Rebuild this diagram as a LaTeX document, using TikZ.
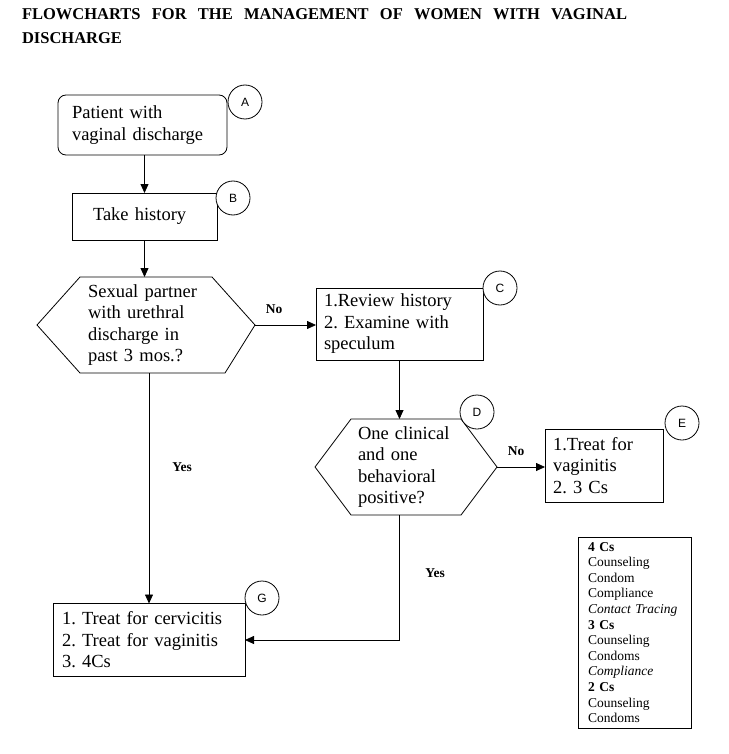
\documentclass[tikz,border=0pt]{standalone}
\usepackage{fontspec}
\setmainfont{Liberation Serif}
\newfontfamily\sansf{Liberation Sans}
\usetikzlibrary{arrows.meta,calc}
\frenchspacing
\begin{document}
\begin{tikzpicture}[x=1pt,y=-1pt,
  every node/.style={inner sep=0pt, outer sep=0pt},
  box/.style={draw, line width=0.8pt, fill=white, align=left, font=\fontsize{18.5}{21.5}\selectfont},
  hexnode/.style={align=left, font=\fontsize{18.5}{21.5}\selectfont},
  tag/.style={draw, circle, line width=0.8pt, fill=white, minimum size=34pt, font=\sansf\fontsize{12}{14}\selectfont},
  lbl/.style={font=\bfseries\fontsize{13.5}{16}\selectfont},
  arr/.style={line width=0.8pt, -{Triangle[length=9pt,width=8pt]}},
  hexline/.style={draw, line width=0.8pt, line join=miter}
]
\useasboundingbox (0,0) rectangle (728,754);

% title
\node[anchor=base west, font=\bfseries\fontsize{16.5}{20}\selectfont] (t1) at (22,20)
  {\makebox[605pt][s]{FLOWCHARTS FOR THE MANAGEMENT OF WOMEN WITH VAGINAL}};
\node[anchor=base west, font=\bfseries\fontsize{16.5}{20}\selectfont] (t2) at (22,44) {DISCHARGE};

% boxes
\node[box, rounded corners=8pt, minimum width=169pt, minimum height=60pt, text width=141pt, inner xsep=14pt] (A) at (142.5,125) {Patient with\\vaginal discharge};
\node[box, minimum width=145pt, minimum height=47pt, text width=103pt, inner xsep=21pt] (B) at (144.5,216.5) {Take history};
\node[box, minimum width=167pt, minimum height=72pt, text width=151pt, inner xsep=8pt] (C) at (399.5,324) {1.Review history\\2. Examine with\\speculum};
\node[box, minimum width=118pt, minimum height=73pt, text width=102pt, inner xsep=8pt] (E) at (604,465.5) {1.Treat for\\vaginitis\\2. 3 Cs};
\node[box, minimum width=192pt, minimum height=73pt, text width=174pt, inner xsep=9pt] (G) at (149,640) {1. Treat for cervicitis\\2. Treat for vaginitis\\3. 4Cs};
\node[box, minimum width=113pt, minimum height=191pt, text width=93pt, inner xsep=10pt, font=\fontsize{13.5}{15.6}\selectfont] (L) at (634.5,632.5)
  {\textbf{4 Cs}\\Counseling\\Condom\\Compliance\\\textit{Contact Tracing}\\\textbf{3 Cs}\\Counseling\\Condoms\\\textit{Compliance}\\\textbf{2 Cs}\\Counseling\\Condoms};

% decision hexagons
\node[hexnode, minimum width=218pt, minimum height=96pt, text width=116pt, inner xsep=51pt] (h1) at (146,325) {Sexual partner\\with urethral\\discharge in\\past 3 mos.?};
\draw[hexline] (h1.west) -- ([xshift=43pt]h1.north west) -- ([xshift=-43pt]h1.north east) -- (h1.east) -- ([xshift=-30pt]h1.south east) -- ([xshift=43pt]h1.south west) -- cycle;

\node[hexnode, minimum width=182pt, minimum height=96pt, text width=96pt, inner xsep=43pt] (hD) at (406,467) {One clinical\\and one\\behavioral\\positive?};
\draw[hexline] (hD.west) -- ([xshift=36pt]hD.north west) -- ([xshift=-36pt]hD.north east) -- (hD.east) -- ([xshift=-36pt]hD.south east) -- ([xshift=36pt]hD.south west) -- cycle;

% connectors
\draw[arr] (A.south -| B.north) -- (B.north);
\draw[arr] (B.south) -- (B.south |- h1.north);
\draw[arr] (h1.east) -- (h1.east -| C.west);
\draw[arr] (C.south) -- (C.south |- hD.north);
\draw[arr] (hD.east) -- (hD.east -| E.west);
\draw[arr] (h1.south -| G.north) -- (G.north);
\draw[arr] (hD.south -| C.south) |- (G.east);

% labels
\node[lbl] (no1) at (274,309) {No};
\node[lbl] (no2) at (516,451) {No};
\node[lbl] (yes1) at (182,467) {Yes};
\node[lbl] (yes2) at (435,573) {Yes};

% tags
\node[tag] (tA) at (245,102) {A};
\node[tag] (tB) at (233,198) {B};
\node[tag] (tC) at (500,288) {C};
\node[tag] (tD) at (477,412) {D};
\node[tag] (tE) at (682,423) {E};
\node[tag] (tG) at (262,598) {G};
\end{tikzpicture}
\end{document}
